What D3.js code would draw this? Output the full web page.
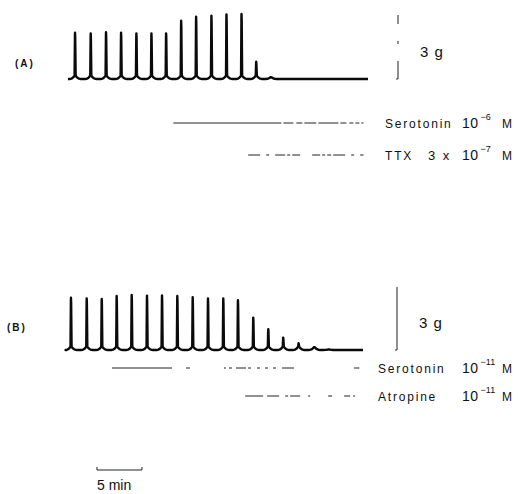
<!DOCTYPE html>
<html>
<head>
<meta charset="utf-8">
<script src="https://cdn.jsdelivr.net/npm/d3@7"></script>
<style>
  body { margin: 0; background: #fff; }
  text { font-family: "Liberation Sans", Arial, sans-serif; fill: #111; }
</style>
</head>
<body>
<div id="figure"></div>
<script>
// peak times (min from start of recording) and contraction amplitude (g)
var peakTimesA = [0.78, 2.52, 4.22, 5.89, 7.59, 9.26, 10.89, 12.56, 14.22, 15.92, 17.59, 19.26, 20.89, 22.52]
var peakAmpA   = [2.17, 2.14, 2.19, 2.17, 2.14, 2.14, 2.14, 2.73, 2.92, 2.97, 3.03, 3.05, 0.81, 0.08]
var peakTimesB = [0.44, 2.19, 3.86, 5.52, 7.19, 8.89, 10.56, 12.26, 13.97, 15.67, 17.37, 19.0, 20.7, 22.37, 24.03, 25.74, 27.48, 29.1]
var peakAmpB   = [2.49, 2.46, 2.43, 2.57, 2.62, 2.59, 2.60, 2.57, 2.51, 2.46, 2.46, 2.37, 1.54, 0.99, 0.59, 0.32, 0.13, 0.03]

// drug application periods (min)
var drugsA = [
  {name: "Serotonin", conc: ["", "10", "−6"], start: 11.7, end: 32.8},
  {name: "TTX", conc: ["3  x", "10", "−7"], start: 20.0, end: 32.8}
]
var drugsB = [
  {name: "Serotonin", conc: ["", "10", "−11"], start: 5.0, end: 32.5},
  {name: "Atropine", conc: ["", "10", "−11"], start: 19.8, end: 32.6}
]
var recordLengthA = 33.3
var recordLengthB = 32.9
var timeBarMin = 5

var width = 525, height = 494

var svg = d3.select("#figure").append("svg")
  .attr("width", width)
  .attr("height", height)

// one twitch: thin spike with a small flared foot
function twitch(t, a) {
  var foot = Math.min(a, 0.16)
  return [
    [t - 0.6, 0], [t - 0.4, foot * 0.12], [t - 0.25, foot * 0.35], [t - 0.13, foot * 0.7], [t - 0.05, foot],
    [t - 0.01, a * 0.92], [t, a], [t + 0.02, a * 0.9],
    [t + 0.07, foot], [t + 0.16, foot * 0.65], [t + 0.3, foot * 0.3], [t + 0.45, foot * 0.1], [t + 0.65, 0]
  ]
}

function drawPanel(opt) {
  var x = d3.scaleLinear().domain([0, opt.length]).range(opt.xRange)
  var y = d3.scaleLinear().domain([0, 3]).range(opt.yRange)

  var pts = [[0, 0]]
  opt.times.forEach(function(t, i) { pts = pts.concat(twitch(t, opt.amps[i])) })
  pts.push([opt.length, 0])

  var line = d3.line()
    .x(function(d) { return x(d[0]) })
    .y(function(d) { return y(d[1]) })

  svg.append("path")
    .attr("d", line(pts))
    .attr("fill", "none")
    .attr("stroke", "#0a0a0a")
    .attr("stroke-width", 2.4)
    .attr("stroke-linejoin", "round")

  // panel label
  svg.append("text")
    .attr("x", opt.labelX).attr("y", opt.labelY)
    .text(opt.label)
    .style("font-size", "10px").style("font-weight", "bold").style("letter-spacing", "2px")

  // 3 g calibration bar
  svg.append("line")
    .attr("x1", opt.barX).attr("x2", opt.barX)
    .attr("y1", y(3)).attr("y2", y(0))
    .attr("stroke", "#333").attr("stroke-width", 1.1)
    .attr("stroke-dasharray", opt.barDash)
  svg.append("line")
    .attr("x1", opt.barX - 2).attr("x2", opt.barX)
    .attr("y1", y(0)).attr("y2", y(0))
    .attr("stroke", "#333").attr("stroke-width", 1)
  svg.append("text")
    .attr("x", opt.barX + 22).attr("y", y(1.05))
    .text("3 g")
    .style("font-size", "15px").style("word-spacing", "2px")

  // drug bars
  opt.drugs.forEach(function(d, i) {
    var ly = opt.drugY[i]
    svg.append("line")
      .attr("x1", x(d.start)).attr("x2", x(d.end))
      .attr("y1", ly).attr("y2", ly)
      .attr("stroke", "#222").attr("stroke-width", 1)
      .attr("stroke-dasharray", opt.drugDash[i])
    var t = svg.append("text").attr("y", ly + 5).style("font-size", "12px")
    t.append("tspan").attr("x", opt.textX).style("letter-spacing", "1.8px").text(d.name)
    if (d.conc[0]) t.append("tspan").attr("x", 428).style("font-size", "13px").style("word-spacing", "4px").text(d.conc[0])
    t.append("tspan").attr("x", 462).style("font-size", "14px").style("letter-spacing", "0.5px").text(d.conc[1])
    t.append("tspan").attr("dy", -8).attr("dx", 2).style("font-size", "9px").text(d.conc[2])
    t.append("tspan").attr("x", 502).attr("dy", 8).style("font-size", "12px").text("M")
  })
  return x
}

drawPanel({
  label: "(A)", labelX: 15, labelY: 67,
  times: peakTimesA, amps: peakAmpA, length: recordLengthA,
  xRange: [68, 368], yRange: [79, 15],
  barX: 398, barDash: "9,17,3,17,20",
  drugs: drugsA, drugY: [123, 155], textX: 385,
  drugDash: ["108,2,10,3,6,2,12,2,20,2,6,3,4,2,4,2", "12,6,3,6,10,2,3,2,8,12,8,2,3,2,4,2"]
})

var xB = drawPanel({
  label: "(B)", labelX: 7, labelY: 331,
  times: peakTimesB, amps: peakAmpB, length: recordLengthB,
  xRange: [67, 363], yRange: [350, 287],
  barX: 397, barDash: null,
  drugs: drugsB, drugY: [368, 396], textX: 378,
  drugDash: ["60,14,4,34,2,3,3,4,10,2,3,6,3,5,3,5,3,6,12", "18,4,12,6,3,2,10,8,2"]
})

// time calibration
var x0 = xB(3.33), x1 = xB(3.33 + timeBarMin)
svg.append("path")
  .attr("d", "M" + x0 + ",467 L" + x0 + ",470 L" + x1 + ",470 L" + x1 + ",467")
  .attr("fill", "none").attr("stroke", "#222").attr("stroke-width", 1)
svg.append("text")
  .attr("x", x0).attr("y", 490)
  .text(timeBarMin + " min")
  .style("font-size", "14px")
</script>
</body>
</html>
